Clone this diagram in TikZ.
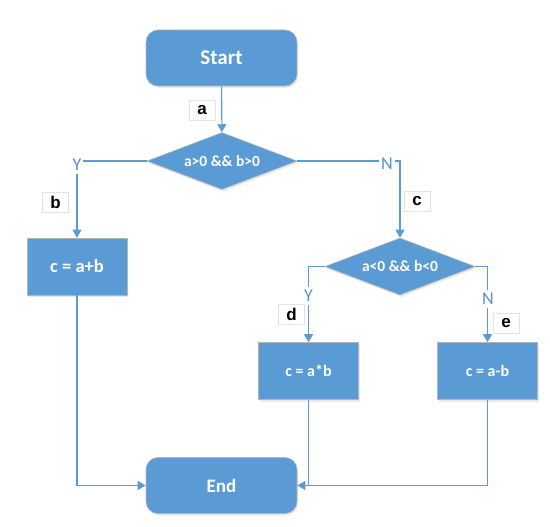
\documentclass[tikz,border=0pt]{standalone}
\usepackage{fontspec}
\setmainfont{Carlito}
\newfontfamily\arialfont{Liberation Sans}
\usetikzlibrary{shapes.geometric,arrows.meta,shadows}
\definecolor{fillblue}{HTML}{5B9BD5}
\definecolor{lineblue}{HTML}{5B9BD5}
\definecolor{ynblue}{HTML}{5A8FCA}
\definecolor{bordergray}{HTML}{B4B4B4}
\definecolor{labelgray}{HTML}{E2E2E2}
\begin{document}
\begin{tikzpicture}[x=1pt,y=-1pt,
  base/.style={fill=fillblue, draw=bordergray, line width=0.6pt, text=white, inner sep=0pt,
    drop shadow={shadow xshift=1pt,shadow yshift=-2pt,opacity=0.18}},
  term/.style={base, rounded corners=12pt, minimum width=151pt, minimum height=56pt},
  proc/.style={base, minimum width=100pt, minimum height=57pt},
  dec/.style={base, diamond, aspect=2.63, minimum width=150pt, minimum height=57pt},
  lbl/.style={draw=labelgray, fill=white, line width=0.6pt,
    font=\arialfont\bfseries\fontsize{17}{17}\selectfont,
    minimum width=26pt, minimum height=20pt, inner sep=0pt},
  yn/.style={fill=white, text=ynblue, font=\fontsize{18}{18}\selectfont,
    inner xsep=2pt, inner ysep=3pt},
  conn/.style={draw=lineblue, line width=1.1pt},
  arr/.style={conn, -{Triangle[length=8pt,width=9pt]}}
]
\useasboundingbox (0,0) rectangle (550,527);

\node[term, font=\bfseries\fontsize{21}{24}\selectfont] (start) at (221.5,58) {Start};
\node[dec, font=\bfseries\fontsize{15.5}{18}\selectfont] (d1) at (222,161) {a>0 \&\& b>0};
\node[proc, font=\bfseries\fontsize{18.5}{20}\selectfont] (pb) at (77,266.5) {c = a+b};
\node[dec, font=\bfseries\fontsize{15.5}{18}\selectfont] (d2) at (400,266.5) {a<0 \&\& b<0};
\node[proc, font=\bfseries\fontsize{16}{18}\selectfont] (pd) at (308.5,371) {c = a*b};
\node[proc, font=\bfseries\fontsize{16}{18}\selectfont] (pe) at (487.5,371) {c = a-b};
\node[term, font=\bfseries\fontsize{19}{22}\selectfont] (end) at (221.5,485.5) {End};

\coordinate (join) at (pd.south |- end.east);

\draw[arr] (start) -- (d1);
\draw[arr] (d1.west) -| (pb.north);
\draw[arr] (d1.east) -| (d2.north);
\draw[arr] (d2.west) -| (pd.north);
\draw[arr] (d2.east) -| (pe.north);
\draw[arr] (pb.south) |- (end.west);
\draw[arr] (pd.south) |- (end.east);
\draw[conn] (pe.south) |- (join);

\node[yn] (y1) at (77,165) {Y};
\node[yn] (n1) at (387,163.5) {N};
\node[yn] (y2) at (308.5,296) {Y};
\node[yn] (n2) at (488,299) {N};

\node[lbl] (la) at (202,110) {a};
\node[lbl] (lb) at (55.5,202) {b};
\node[lbl] (lc) at (417,201.5) {c};
\node[lbl] (ld) at (291.5,314.5) {d};
\node[lbl] (le) at (506,323.5) {e};
\end{tikzpicture}
\end{document}
